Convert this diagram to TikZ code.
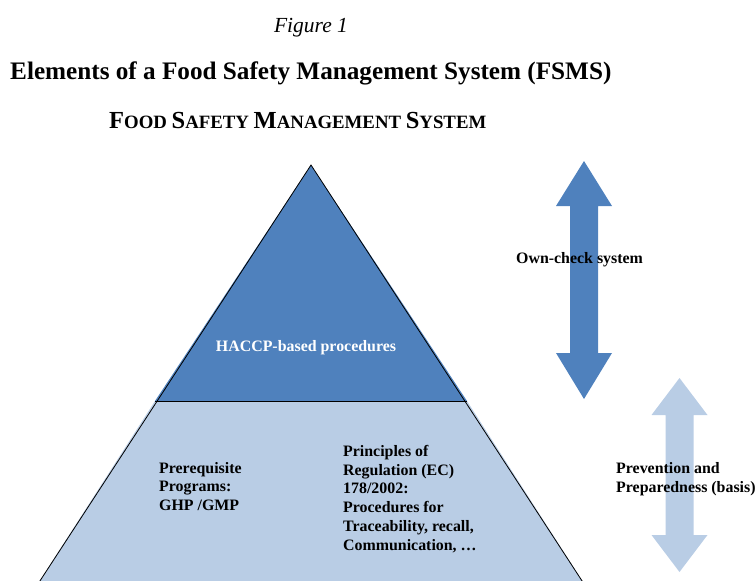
\documentclass[tikz,border=0pt]{standalone}
\usepackage{fontspec}
\setmainfont{Liberation Serif}
\usetikzlibrary{positioning}

\definecolor{haccpblue}{HTML}{4F81BD}
\definecolor{basisblue}{HTML}{B9CDE5}

% fake small caps: big first letter, smaller rest
\newcommand{\fsmscap}[2]{{\fontsize{24.5}{25}\selectfont #1}{\fontsize{18.8}{19}\selectfont #2}}

\begin{document}
\begin{tikzpicture}[x = 1pt, y = -1pt,
	every node/.style = {text = black, inner sep = 0pt},
	label/.style = {font = \fontsize{15.9}{18.8}\selectfont\bfseries, align = left, anchor = west},
	layer/.style = {draw = black, line width = 0.8pt}]

	\useasboundingbox (0, 0) rectangle (756, 581);
	\clip (0, 0) rectangle (756, 581);

	% Headings

	\node [anchor = base, font = \fontsize{21.5}{22}\selectfont\itshape] (fig) at (311, 32) {Figure 1};
	\node [anchor = base west, font = \fontsize{25.2}{26}\selectfont\bfseries] (title) at (10, 79)
		{Elements of a Food Safety Management System (FSMS)};
	\node [anchor = base west, font = \fontsize{18.8}{19}\selectfont\bfseries] (fsms) at (109, 128)
		{\fsmscap{F}{OOD} \fsmscap{S}{AFETY} \fsmscap{M}{ANAGEMENT} \fsmscap{S}{YSTEM}};

	% Pyramid

	\def\Ax{311}	% apex x
	\def\Ay{165}	% apex y
	\def\Dy{401}	% divider y
	\def\D{156}		% half width at divider

	\coordinate (apex) at (\Ax, \Ay);
	\coordinate (divL) at (\Ax - \D, \Dy);
	\coordinate (divR) at (\Ax + \D, \Dy);
	\coordinate (baseL) at (\Ax - 290, 610);
	\coordinate (baseR) at (\Ax + 290, 610);

	\fill [basisblue] (divL) -- (divR) -- (baseR) -- (baseL) -- cycle;
	\fill [haccpblue] (apex) -- (divR) -- (divL) -- cycle;
	\draw [layer] (baseL) -- (apex) -- (baseR);
	\draw [layer] (divL) -- (divR);

	\node [label, anchor = center, text = white] (haccp) at (306, 348) {HACCP-based procedures};
	\node [label] (prereq) at (159, 486.5) {Prerequisite\\Programs:\\GHP /GMP};
	\node [label] (principles) at (343, 499)
		{Principles of\\Regulation (EC)\\178/2002:\\Procedures for\\Traceability, recall,\\Communication, \dots};

	% Double arrows

	\def\H{28}		% head half width
	\def\S{14}		% shaft half width

	\fill [haccpblue] (584, 161) -- (584 + \H, 206) -- (584 + \S, 206) -- (584 + \S, 353)
		-- (584 + \H, 353) -- (584, 399) -- (584 - \H, 353) -- (584 - \S, 353)
		-- (584 - \S, 206) -- (584 - \H, 206) -- cycle;

	\fill [basisblue] (679.5, 378) -- (679.5 + \H, 415) -- (679.5 + \S, 415) -- (679.5 + \S, 535)
		-- (679.5 + \H, 535) -- (679.5, 572) -- (679.5 - \H, 535) -- (679.5 - \S, 535)
		-- (679.5 - \S, 415) -- (679.5 - \H, 415) -- cycle;

	\node [label] (owncheck) at (516, 260) {Own-check system};
	\node [label] (prevention) at (616, 479) {Prevention and\\Preparedness (basis)};

\end{tikzpicture}
\end{document}
